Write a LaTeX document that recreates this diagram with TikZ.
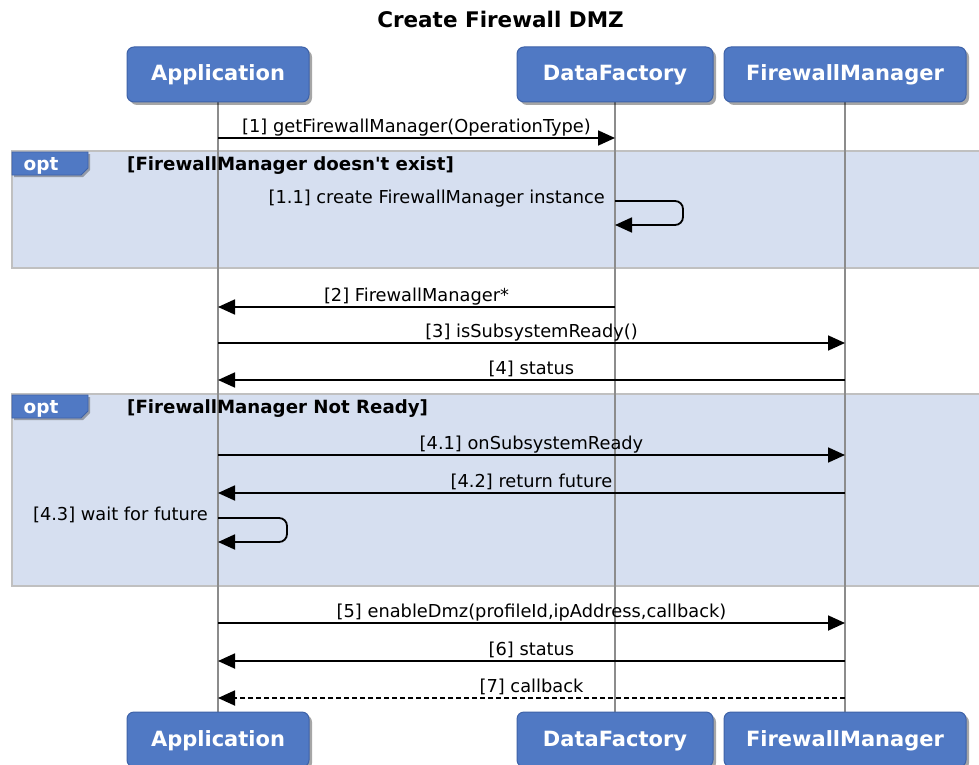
\documentclass[tikz,border=0pt]{standalone}
\usepackage{fontspec}
\setmainfont{DejaVu Sans}[Ligatures=TeXOff]
\usetikzlibrary{arrows.meta,shadows}
\pgfdeclarelayer{framelayer}
\pgfdeclarelayer{lifelayer}
\pgfsetlayers{framelayer,lifelayer,main}
\definecolor{pblue}{RGB}{80,121,196}
\definecolor{pborder}{RGB}{62,98,168}
\definecolor{ffill}{RGB}{214,223,240}
\definecolor{fborder}{RGB}{192,192,192}
\definecolor{lgray}{RGB}{140,140,140}
\tikzset{
 part/.style={draw=pborder, line width=1pt, fill=pblue, rounded corners=7pt,
   minimum height=55pt, inner sep=0pt, text=white, text height=15pt, text depth=2pt,
   font=\fontsize{21}{25}\selectfont\bfseries,
   drop shadow={shadow xshift=3pt, shadow yshift=-3pt, opacity=0.35, fill=black}},
 life/.style={draw=lgray, line width=1.6pt},
 msg/.style={draw=black, line width=1.8pt, -{Triangle[length=17pt,width=15pt]}},
 ret/.style={msg, dash pattern=on 5pt off 3pt},
 lbl/.style={font=\fontsize{17.8}{20}\selectfont, anchor=base, inner sep=0pt, yshift=6pt},
 slbl/.style={font=\fontsize{17.8}{20}\selectfont, anchor=mid east, inner sep=0pt},
 frame/.style={draw=fborder, line width=2pt, fill=ffill},
 tab/.style={draw=pborder, line width=0.8pt, fill=pblue,
   drop shadow={shadow xshift=2pt, shadow yshift=-2pt, opacity=0.3, fill=black}},
 tabtext/.style={text=white, font=\fontsize{18.5}{21}\selectfont\bfseries, anchor=base, inner sep=0pt},
 guard/.style={font=\fontsize{18.2}{21}\selectfont\bfseries, anchor=base west, inner sep=0pt},
 ttl/.style={font=\fontsize{21.5}{25}\selectfont\bfseries, anchor=base, inner sep=0pt},
}
\begin{document}
\begin{tikzpicture}[x=1pt,y=-1pt]
\useasboundingbox (0,0) rectangle (979,765);
\clip (0,0) rectangle (979,765);

% title
\node[ttl] (title) at (500.5,28) {Create Firewall DMZ};

% frames
\begin{pgfonlayer}{framelayer}
\fill[white] (0,0) rectangle (979,765);
\draw[frame] (12,151) rectangle (995,268);
\draw[frame] (12,394) rectangle (995,586);
\end{pgfonlayer}
\draw[tab] (12,152) -- (88,152) -- (88,168) -- (81,175) -- (12,175) -- cycle;
\node[tabtext] (opt1) at (41,170) {opt};
\node[guard] (g1) at (127,170) {[FirewallManager doesn't exist]};
\draw[tab] (12,395) -- (88,395) -- (88,411) -- (81,418) -- (12,418) -- cycle;
\node[tabtext] (opt2) at (41,413) {opt};
\node[guard] (g2) at (127,413) {[FirewallManager Not Ready]};

% participants
\node[part, minimum width=182pt] (appT) at (218,74.5) {Application};
\node[part, minimum width=196pt] (dfT) at (615,74.5) {DataFactory};
\node[part, minimum width=242pt] (fmT) at (845,74.5) {FirewallManager};
\node[part, minimum width=182pt] (appB) at (218,739.5) {Application};
\node[part, minimum width=196pt] (dfB) at (615,739.5) {DataFactory};
\node[part, minimum width=242pt] (fmB) at (845,739.5) {FirewallManager};

% lifelines
\begin{pgfonlayer}{lifelayer}
\draw[life] (appT.south) -- (appB.north);
\draw[life] (dfT.south) -- (dfB.north);
\draw[life] (fmT.south) -- (fmB.north);
\end{pgfonlayer}

% messages
\draw[msg] (appT.south |- 0,138) -- node[lbl, midway] {[1] getFirewallManager(OperationType)} (dfT.south |- 0,138);
\draw[msg, rounded corners=8pt] (dfT.south |- 0,201) -- (683,201) -- (683,225) -- (dfT.south |- 0,225);
\node[slbl] (l11) at (605,201) {[1.1] create FirewallManager instance};
\draw[msg] (dfT.south |- 0,307) -- node[lbl, midway] {[2] FirewallManager*} (appT.south |- 0,307);
\draw[msg] (appT.south |- 0,343) -- node[lbl, midway] {[3] isSubsystemReady()} (fmT.south |- 0,343);
\draw[msg] (fmT.south |- 0,380) -- node[lbl, midway] {[4] status} (appT.south |- 0,380);
\draw[msg] (appT.south |- 0,455) -- node[lbl, midway] {[4.1] onSubsystemReady} (fmT.south |- 0,455);
\draw[msg] (fmT.south |- 0,493) -- node[lbl, midway] {[4.2] return future} (appT.south |- 0,493);
\draw[msg, rounded corners=8pt] (appT.south |- 0,518) -- (287,518) -- (287,542) -- (appT.south |- 0,542);
\node[slbl] (l43) at (208,518) {[4.3] wait for future};
\draw[msg] (appT.south |- 0,623) -- node[lbl, midway] {[5] enableDmz(profileId,ipAddress,callback)} (fmT.south |- 0,623);
\draw[msg] (fmT.south |- 0,661) -- node[lbl, midway] {[6] status} (appT.south |- 0,661);
\draw[ret] (fmT.south |- 0,698) -- node[lbl, midway] {[7] callback} (appT.south |- 0,698);
\end{tikzpicture}
\end{document}
